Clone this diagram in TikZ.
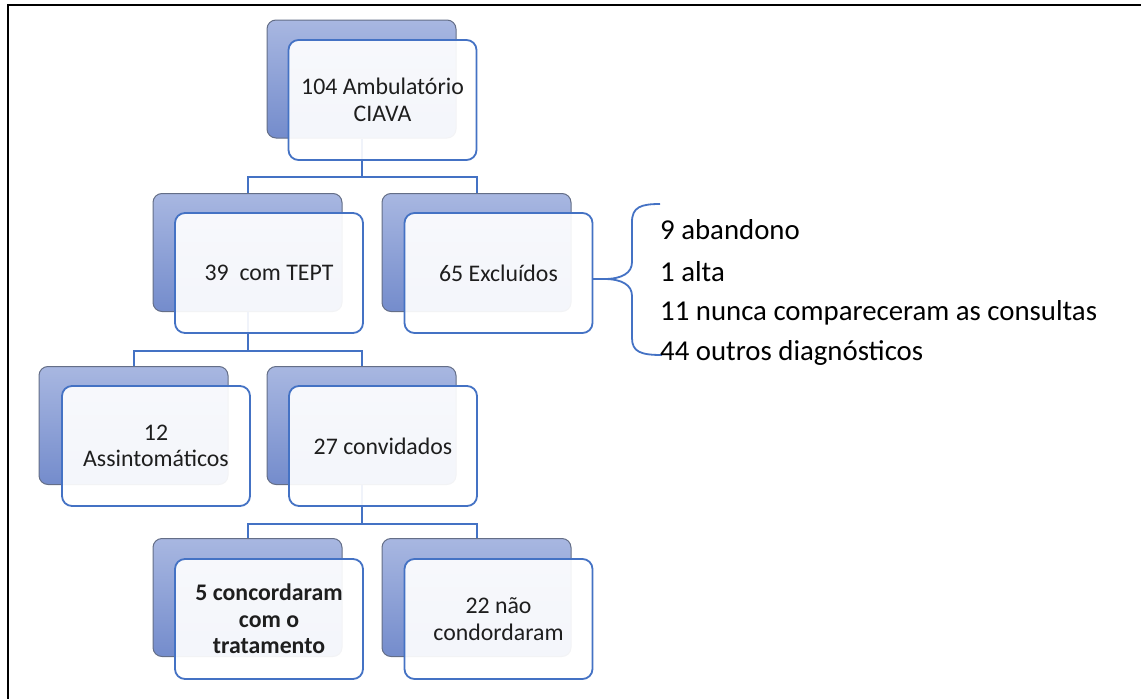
\documentclass[tikz,border=0pt]{standalone}
\usepackage{fontspec}
\setmainfont{Carlito}
\usetikzlibrary{calc}
\definecolor{accent}{HTML}{4472C4}
\definecolor{backtop}{RGB}{168,183,225}
\definecolor{backbot}{RGB}{116,140,204}
\definecolor{backedge}{RGB}{100,110,135}
\definecolor{boxtext}{RGB}{30,30,30}
\newcommand\bxfont{\fontsize{23.8}{26.5}\selectfont}
\newcommand\lstfont{\fontsize{28.8}{32}\selectfont}
\begin{document}
\begin{tikzpicture}[x=1pt,y=-1pt,
  backbox/.style={draw=backedge, line width=1pt, rounded corners=9pt, top color=backtop, bottom color=backbot, minimum width=189pt, minimum height=118pt, inner sep=0pt},
  frontbox/.style={draw=accent, line width=1.8pt, rounded corners=10pt, fill=white, fill opacity=0.92, text opacity=1, minimum width=188pt, minimum height=120pt, inner sep=0pt, align=center, font=\bxfont, text=boxtext},
  conn/.style={draw=accent, line width=2pt},
  listtext/.style={anchor=west, inner sep=0pt, font=\lstfont, text=black}]
\useasboundingbox (0,0) rectangle (1141,699);
\draw[line width=2pt, black] (8,699) -- (8,5) -- (1141,5);
% back boxes
\node[backbox] (topB) at (361.5,79) {};
\node[backbox] (l2B) at (247.5,252.5) {};
\node[backbox] (r2B) at (476.5,252.5) {};
\node[backbox] (l3B) at (133.5,425.5) {};
\node[backbox] (r3B) at (361.5,425.5) {};
\node[backbox] (l4B) at (247.5,597.5) {};
\node[backbox] (r4B) at (476.5,597.5) {};
% connectors
\draw[conn] (topB.south) -- ++(0,38) -| (l2B.north);
\draw[conn] (topB.south) -- ++(0,38) -| (r2B.north);
\draw[conn] (l2B.south) -- ++(0,39) -| (l3B.north);
\draw[conn] (l2B.south) -- ++(0,39) -| (r3B.north);
\draw[conn] (r3B.south) -- ++(0,39) -| (l4B.north);
\draw[conn] (r3B.south) -- ++(0,39) -| (r4B.north);
% front boxes
\node[frontbox] (topF) at (382.5,100) {104 Ambulatório\\CIAVA};
\node[frontbox] (l2F) at (269,273) {39\ \ com TEPT};
\node[frontbox] (r2F) at (498.5,273) {65 Excluídos};
\node[frontbox] (l3F) at (156,446) {12\\Assintomáticos};
\node[frontbox] (r3F) at (383,446) {27 convidados};
\node[frontbox, font=\bxfont\bfseries] (l4F) at (269,619) {5 concordaram\\com o\\tratamento};
\node[frontbox] (r4F) at (498.5,619) {22 não\\condordaram};
% brace
\coordinate (tip) at (604,279);
\draw[conn] (tip -| r2F.east) -- (tip);
\draw[draw=accent, line width=1.8pt] (660,204) .. controls (641,204) and (632,207) .. (632,222) -- (632,262) .. controls (632,273) and (622,279) .. (tip) .. controls (622,279) and (632,285) .. (632,296) -- (632,338) .. controls (632,352) and (641,355) .. (662,355);
% list
\node[listtext] (t1) at (660,230) {9 abandono};
\node[listtext] (t2) at (660,272) {1 alta};
\node[listtext] (t3) at (660,313) {11 nunca compareceram as consultas};
\node[listtext] (t4) at (660,353) {44 outros diagnósticos};
\end{tikzpicture}
\end{document}
